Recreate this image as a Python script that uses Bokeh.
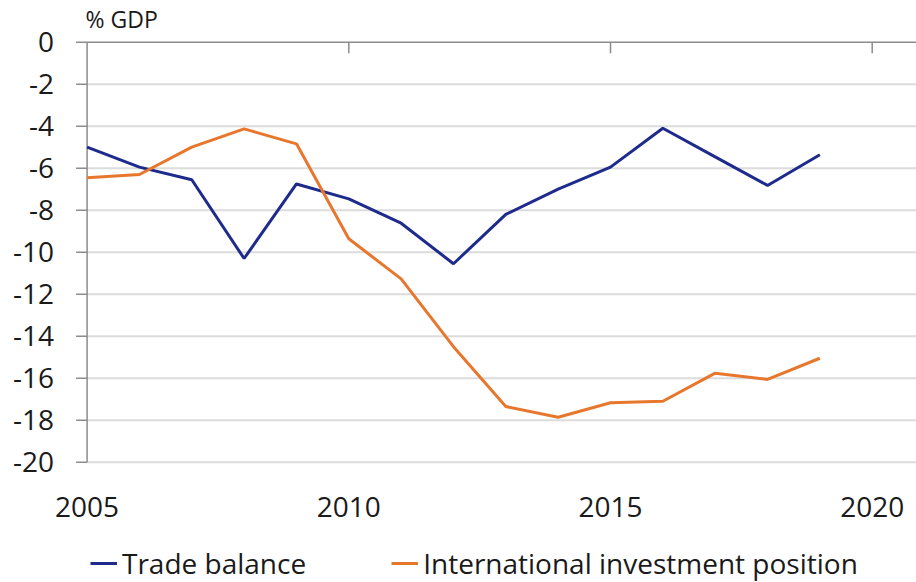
from bokeh.plotting import figure
from bokeh.models import Range1d, Legend, LegendItem, Label
from bokeh.core.properties import value
from bokeh.embed import file_html
from bokeh.resources import INLINE

years = [2005, 2006, 2007, 2008, 2009, 2010, 2011, 2012, 2013, 2014, 2015, 2016, 2017, 2018, 2019]
trade_balance = [-5.0, -5.95, -6.55, -10.3, -6.75, -7.46, -8.62, -10.55, -8.2, -7.0, -5.95, -4.1, -5.46, -6.82, -5.36]
iip = [-6.46, -6.3, -5.0, -4.13, -4.84, -9.36, -11.27, -14.5, -17.35, -17.86, -17.17, -17.1, -15.76, -16.06, -15.05]
y_ticks = [0, -2, -4, -6, -8, -10, -12, -14, -16, -18, -20]
y_tick_labels = ["0", "-2", "-4", "-6", "-8", "-10", "-12", "-14", "-16", "-18", "-20"]
x_ticks = [2005, 2010, 2015, 2020]
x_tick_labels = ["2005", "2010", "2015", "2020"]

FONT = "Open Sans"
BLUE = "#1f2b8c"
ORANGE = "#e8772e"
AXIS_GRAY = "#8c8c8c"
GRID_GRAY = "#dcdcdc"
TEXT = "#1a1a1a"

W, H = 916, 582
LEFT_PX = 86.6                      # canvas column of x = 2005
TOP_PX, BOTTOM_PX = 41.7, 461.7     # canvas rows of y = 0 and y = -20
PX_PER_YEAR = 52.34
PX_PER_UNIT = (BOTTOM_PX - TOP_PX) / (y_ticks[0] - y_ticks[-1])

x_lo = x_ticks[0] - LEFT_PX / PX_PER_YEAR
x_hi = x_ticks[0] + (W - LEFT_PX) / PX_PER_YEAR
y_hi = y_ticks[0] + TOP_PX / PX_PER_UNIT
y_lo = y_ticks[-1] - (H - BOTTOM_PX) / PX_PER_UNIT

p = figure(width=W, height=H, output_backend="svg", toolbar_location=None,
           x_range=Range1d(x_lo, x_hi), y_range=Range1d(y_lo, y_hi),
           x_axis_location=None, y_axis_location=None,
           min_border_left=0, min_border_right=0, min_border_top=0, min_border_bottom=0)
p.outline_line_color = None
p.background_fill_color = "white"
p.border_fill_color = "white"
p.xgrid.grid_line_color = None
p.ygrid.grid_line_color = None

n_y = len(y_ticks)
# horizontal gridlines (below zero line)
p.segment(x0=[x_ticks[0]] * (n_y - 1), y0=y_ticks[1:], x1=[x_hi] * (n_y - 1), y1=y_ticks[1:],
          line_color=GRID_GRAY, line_width=2)

# vertical axis line, outward ticks and labels
p.segment(x0=[x_ticks[0]], y0=[y_ticks[-1]], x1=[x_ticks[0]], y1=[y_ticks[0]],
          line_color=AXIS_GRAY, line_width=1.5)
ytick_len = 11 / PX_PER_YEAR
p.segment(x0=[x_ticks[0] - ytick_len] * n_y, y0=y_ticks, x1=[x_ticks[0]] * n_y, y1=y_ticks,
          line_color=AXIS_GRAY, line_width=1.5)
p.text(x=[x_ticks[0]] * n_y, y=y_ticks, text=y_tick_labels, x_offset=-33,
       text_align="right", text_baseline="middle",
       text_font=value(FONT), text_font_size="28px", text_color=TEXT)

r1 = p.line(years, trade_balance, line_color=BLUE, line_width=3)
r2 = p.line(years, iip, line_color=ORANGE, line_width=3)

# horizontal axis line at y = 0 with inward tick marks
p.segment(x0=[x_ticks[0]], y0=[0], x1=[x_hi], y1=[0], line_color=AXIS_GRAY, line_width=1.5)
xtick_len = 11 / PX_PER_UNIT
n_x = len(x_ticks) - 1
p.segment(x0=x_ticks[1:], y0=[0] * n_x, x1=x_ticks[1:], y1=[-xtick_len] * n_x,
          line_color=AXIS_GRAY, line_width=1.5)

# x tick labels below the plot area
p.text(x=x_ticks, y=[y_ticks[-1]] * len(x_ticks), text=x_tick_labels,
       y_offset=45, text_align="center", text_baseline="middle",
       text_font=value(FONT), text_font_size="28px", text_color=TEXT)

legend = Legend(items=[LegendItem(label="Trade balance", renderers=[r1]),
                       LegendItem(label="International investment position", renderers=[r2])],
                orientation="horizontal", location=(90, 0))
legend.label_text_font = FONT
legend.label_text_font_size = "28px"
legend.label_text_color = TEXT
legend.glyph_width = 27
legend.glyph_height = 20
legend.label_standoff = 5
legend.spacing = 85
legend.padding = 0
legend.margin = 0
legend.border_line_color = None
legend.background_fill_alpha = 0
p.add_layout(legend, "center")

p.add_layout(Label(x=85, y=H - 18, x_units="screen", y_units="screen", text="% GDP",
                   text_font=FONT, text_font_size="23px", text_color=TEXT,
                   text_baseline="middle", text_align="left"))

open("out.html", "w").write(file_html(p, INLINE))
